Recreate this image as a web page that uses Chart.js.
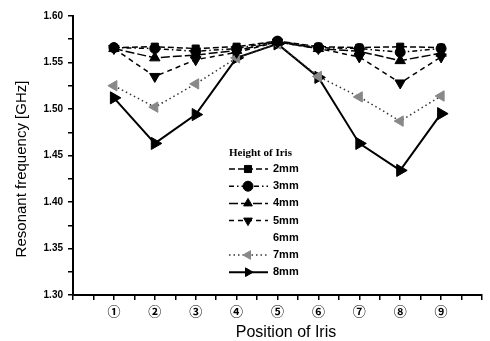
<!DOCTYPE html>
<html>
<head>
<meta charset="utf-8">
<script src="https://cdn.jsdelivr.net/npm/chart.js@4/dist/chart.umd.min.js"></script>
<style>
  html, body { margin: 0; padding: 0; background: #fff; }
  #wrap { width: 490px; height: 341px; position: relative; }
</style>
</head>
<body>
<div id="wrap"><canvas id="c"></canvas></div>
<script>
// iris positions 1..9, resonant frequency in GHz per iris height
const positions = [1, 2, 3, 4, 5, 6, 7, 8, 9];
const h2mm = [1.566, 1.567, 1.565, 1.567, 1.573, 1.567, 1.566, 1.567, 1.566];
const h3mm = [1.566, 1.565, 1.562, 1.565, 1.573, 1.566, 1.565, 1.561, 1.565];
const h4mm = [1.565, 1.555, 1.558, 1.563, 1.572, 1.565, 1.562, 1.552, 1.560];
const h5mm = [1.565, 1.535, 1.553, 1.561, 1.572, 1.565, 1.556, 1.528, 1.556];
const h6mm = [];
const h7mm = [1.525, 1.502, 1.527, 1.555, 1.570, 1.535, 1.513, 1.487, 1.514];
const h8mm = [1.512, 1.463, 1.494, 1.555, 1.570, 1.534, 1.463, 1.434, 1.495];
const circled = ['①', '②', '③', '④', '⑤', '⑥', '⑦', '⑧', '⑨'];

const pts = (arr) => arr.map((v, i) => ({ x: positions[i], y: v }));

function series(label, values, style) {
  return Object.assign({
    label: label,
    data: pts(values),
    borderColor: '#000',
    backgroundColor: '#000',
    pointBackgroundColor: '#000',
    pointBorderColor: '#000',
    borderWidth: 1.5,
    pointRadius: 5,
    pointBorderWidth: 1,
    tension: 0,
    fill: false
  }, style);
}

const datasets = [
  series('2mm', h2mm, { borderDash: [6, 3], pointStyle: 'rect', pointRadius: 5 }),
  series('3mm', h3mm, { borderDash: [5, 3, 1.5, 3], pointStyle: 'circle', pointRadius: 5 }),
  series('4mm', h4mm, { borderDash: [9, 3], pointStyle: 'triangle', pointRadius: 6 }),
  series('5mm', h5mm, { borderDash: [5, 4], pointStyle: 'triangle', pointRotation: 180, pointRadius: 6 }),
  series('6mm', h6mm, { borderColor: 'rgba(0,0,0,0)', pointRadius: 0, hidden6: true }),
  series('7mm', h7mm, { borderDash: [1.5, 3], borderColor: '#333', pointStyle: 'triangle', pointRotation: 270,
    pointRadius: 6, pointBackgroundColor: '#888', pointBorderColor: '#888' }),
  series('8mm', h8mm, { borderWidth: 2, pointStyle: 'triangle', pointRotation: 90, pointRadius: 7 })
];

// axis titles and the in-plot legend
const decorations = {
  id: 'decorations',
  afterDraw(chart) {
    const ctx = chart.ctx;
    ctx.save();
    ctx.fillStyle = '#000';
    ctx.textBaseline = 'middle';

    ctx.font = '16px "Liberation Sans", Arial, sans-serif';
    ctx.textAlign = 'center';
    ctx.fillText('Position of Iris', 286, 333);

    ctx.font = '15px "Liberation Sans", Arial, sans-serif';
    ctx.save();
    ctx.translate(22, 169);
    ctx.rotate(-Math.PI / 2);
    ctx.fillText('Resonant frequency [GHz]', 0, 0);
    ctx.restore();

    ctx.textAlign = 'left';
    ctx.font = 'bold 11px "Liberation Serif", "Times New Roman", serif';
    ctx.fillText('Height of Iris', 229, 153);

    ctx.font = 'bold 11px "Liberation Sans", Arial, sans-serif';
    chart.data.datasets.forEach((ds, i) => {
      const y = 169 + i * 17.2;
      ctx.fillStyle = '#000';
      ctx.fillText(ds.label, 273, y);
      if (ds.hidden6) return;
      ctx.save();
      ctx.strokeStyle = ds.borderColor;
      ctx.lineWidth = ds.borderWidth;
      ctx.setLineDash(ds.borderDash || []);
      ctx.beginPath();
      ctx.moveTo(229, y);
      ctx.lineTo(268, y);
      ctx.stroke();
      ctx.setLineDash([]);
      ctx.fillStyle = ds.pointBackgroundColor;
      ctx.strokeStyle = ds.pointBorderColor;
      ctx.lineWidth = 1;
      Chart.helpers.drawPoint(ctx, {
        pointStyle: ds.pointStyle,
        rotation: ds.pointRotation || 0,
        radius: Math.min(ds.pointRadius, 5),
        borderWidth: 1
      }, 248, y);
      ctx.restore();
    });
    ctx.restore();
  }
};

new Chart(document.getElementById('c'), {
  type: 'line',
  data: { datasets: datasets },
  options: {
    responsive: true,
    maintainAspectRatio: false,
    animation: false,
    layout: { padding: { top: 16, right: 3, left: 0, bottom: 0 } },
    scales: {
      x: {
        type: 'linear',
        min: 0,
        max: 10,
        afterFit: (s) => { s.height = 46; },
        grid: { display: true, drawOnChartArea: false, tickLength: 5, color: '#000', lineWidth: 1.5 },
        border: { display: true, color: '#000', width: 2 },
        ticks: {
          stepSize: 0.5,
          autoSkip: false,
          maxRotation: 0,
          padding: 3,
          color: '#000',
          font: { family: '"Noto Sans CJK JP", "DejaVu Sans", sans-serif', size: 13, weight: 'bold' },
          callback: (v) => (Number.isInteger(v) && v >= 1 && v <= 9) ? circled[v - 1] : ''
        }
      },
      y: {
        min: 1.30,
        max: 1.60,
        afterFit: (s) => { s.width = 73; },
        grid: { display: true, drawOnChartArea: false, tickLength: 5, color: '#000', lineWidth: 1.5 },
        border: { display: true, color: '#000', width: 2 },
        ticks: {
          stepSize: 0.025,
          autoSkip: false,
          padding: 5,
          color: '#000',
          font: { family: '"Liberation Sans", Arial, sans-serif', size: 10, weight: 'bold' },
          callback: (v, i) => (i % 2 === 0) ? v.toFixed(2) : ''
        }
      }
    },
    plugins: {
      legend: { display: false },
      tooltip: { enabled: false }
    }
  },
  plugins: [decorations]
});
</script>
</body>
</html>
